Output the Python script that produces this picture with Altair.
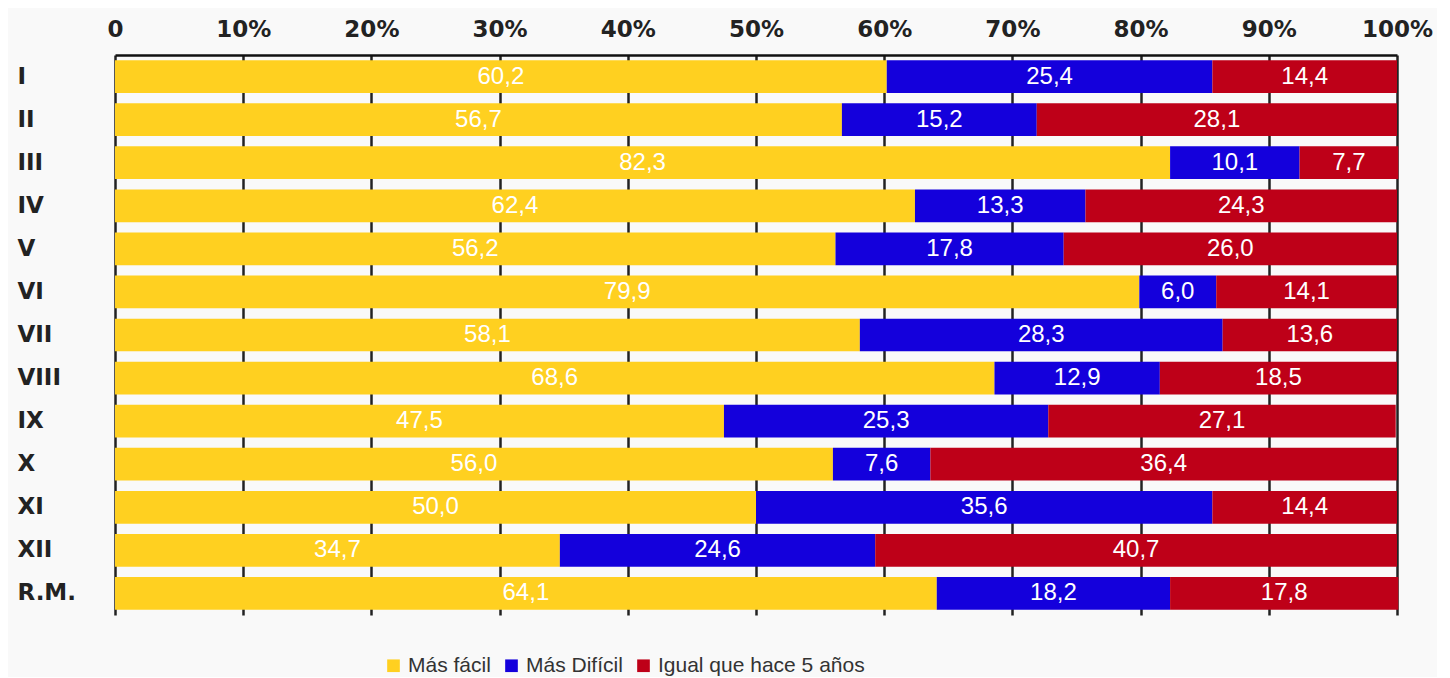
import altair as alt
import pandas as pd

regions = ["I", "II", "III", "IV", "V", "VI", "VII", "VIII", "IX", "X", "XI", "XII", "R.M."]
mas_facil = [60.2, 56.7, 82.3, 62.4, 56.2, 79.9, 58.1, 68.6, 47.5, 56.0, 50.0, 34.7, 64.1]
mas_dificil = [25.4, 15.2, 10.1, 13.3, 17.8, 6.0, 28.3, 12.9, 25.3, 7.6, 35.6, 24.6, 18.2]
igual = [14.4, 28.1, 7.7, 24.3, 26.0, 14.1, 13.6, 18.5, 27.1, 36.4, 14.4, 40.7, 17.8]
series = ["Más fácil", "Más Difícil", "Igual que hace 5 años"]
colors = ["#FFD020", "#1400DC", "#BE0018"]
x_ticks = [0, 10, 20, 30, 40, 50, 60, 70, 80, 90, 100]

rows = []
for i, r in enumerate(regions):
    for k, (s, vals) in enumerate(zip(series, [mas_facil, mas_dificil, igual])):
        rows.append({"region": r, "serie": s, "order": k, "value": vals[i]})
df = pd.DataFrame(rows)

base = alt.Chart(df).transform_stack(
    stack="value", groupby=["region"], as_=["v0", "v1"],
    sort=[alt.SortField("order", order="ascending")]
).transform_calculate(
    mid="(datum.v0 + datum.v1) / 2",
    lab="replace(format(datum.value, '.1f'), '.', ',')"
)

y = alt.Y("region:N", sort=regions, title=None,
          scale=alt.Scale(paddingInner=0.24, paddingOuter=0.12),
          axis=alt.Axis(domain=False, ticks=False, labelAlign="left", labelPadding=98,
                        labelFont="DejaVu Sans", labelFontWeight="bold", labelFontSize=23,
                        labelColor="#222222"))

bars = base.mark_bar().encode(
    x=alt.X("v0:Q", title=None, scale=alt.Scale(domain=[0, 100], nice=False),
            axis=alt.Axis(orient="top", values=x_ticks, format="d",
                          labelExpr="datum.value == 0 ? '0' : datum.label + '%'",
                          labelFont="DejaVu Sans", labelFontWeight="bold", labelFontSize=23,
                          labelColor="#222222", labelPadding=14, ticks=False,
                          domain=True, domainColor="#111111", domainWidth=2.5,
                          grid=True, gridColor="#222222", gridWidth=2.5, gridOpacity=1,
                          labelFlush=False)),
    x2="v1:Q",
    y=y,
    color=alt.Color("serie:N", scale=alt.Scale(domain=series, range=colors),
                    legend=alt.Legend(title=None, orient="none", legendX=268, legendY=600,
                                      direction="horizontal", symbolType="square",
                                      symbolSize=160, symbolStrokeWidth=0, symbolOpacity=1,
                                      labelFont="Liberation Sans", labelFontSize=21,
                                      labelLimit=0,
                                      labelColor="#333333", columnPadding=10, labelOffset=4)),
    order=alt.Order("order:Q")
)

texts = base.mark_text(font="Liberation Sans", fontSize=24, color="white").encode(
    x=alt.X("mid:Q"),
    y=alt.Y("region:N", sort=regions),
    text="lab:N"
)

chart = alt.layer(bars, texts).properties(
    width=1282, height=560,
    autosize=alt.AutoSizeParams(type="none"),
    padding={"left": 107, "top": 47, "right": 40, "bottom": 62},
    background="#f9f9f9"
).configure_view(stroke=None)

chart.save("out.html", embed_options={"renderer": "svg", "actions": False})
